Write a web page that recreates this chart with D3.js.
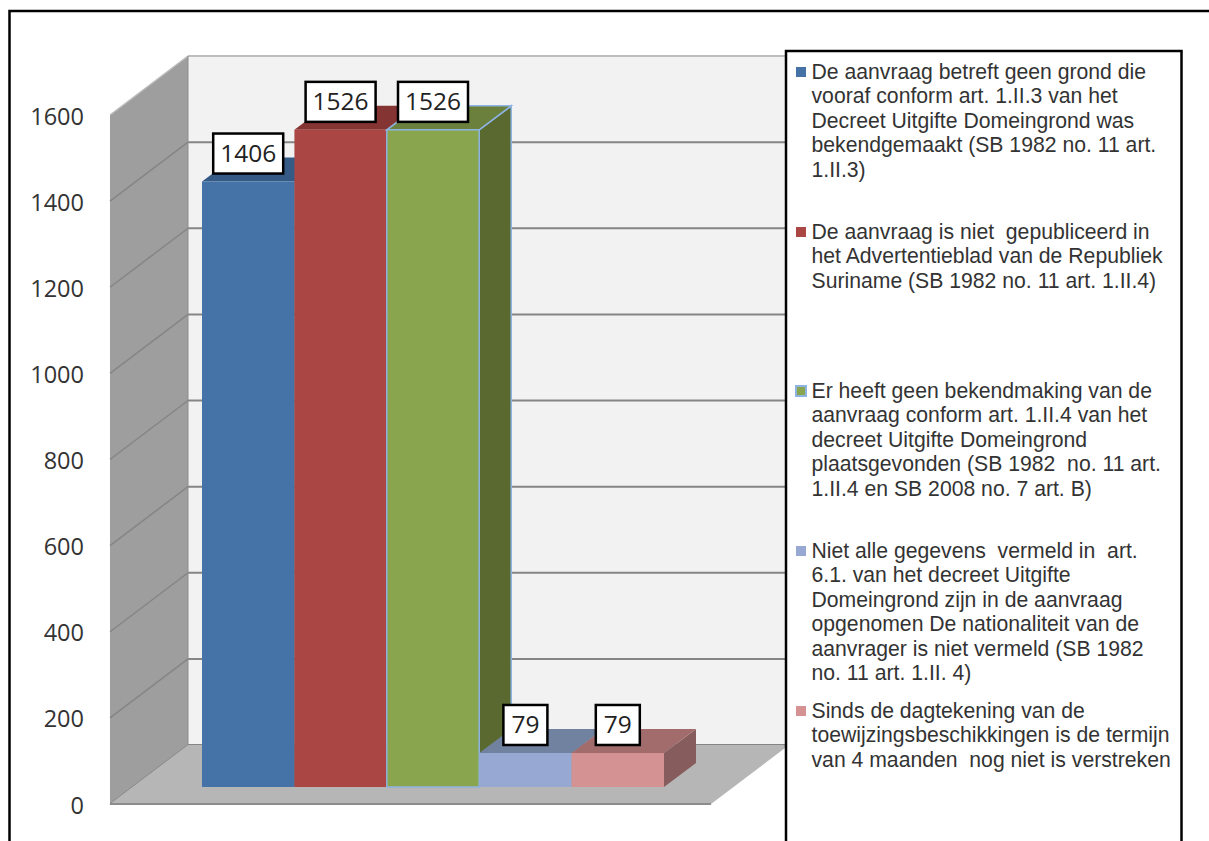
<!DOCTYPE html>
<meta charset="utf-8">
<head>
    <script src="https://d3js.org/d3.v7.min.js"></script>
    <style>
    html, body { margin: 0; background: white; overflow: hidden; }
    svg { display: block; }
    .tick-label { font: 23.5px "Open Sans", sans-serif; fill: #333; }
    .value-label { font: 24.5px "Open Sans", sans-serif; fill: #222; }
    .legend-text { font: 21.2px "Liberation Sans", sans-serif; fill: #333; white-space: pre; }
    </style>
</head>

<body>
    <svg id="svgid" width="1209" height="841"></svg>

    <script>
        // chart values
        var values = [1406, 1526, 1526, 79, 79];
        var ticks = [0, 200, 400, 600, 800, 1000, 1200, 1400, 1600];
        var frontColors = ["#4572a7", "#aa4643", "#89a54e", "#97a9d2", "#d49292"];
        var topColors = ["#355a85", "#843432", "#6a803c", "#70829f", "#a26c6d"];
        var sideColors = ["#2f5077", "#752e2c", "#59692f", "#62718b", "#865c5c"];
        var legendLines = [
            ["De aanvraag betreft geen grond die", "vooraf conform art. 1.II.3 van het", "Decreet Uitgifte Domeingrond was", "bekendgemaakt (SB 1982 no. 11 art.", "1.II.3)"],
            ["De aanvraag is niet  gepubliceerd in", "het Advertentieblad van de Republiek", "Suriname (SB 1982 no. 11 art. 1.II.4)"],
            ["Er heeft geen bekendmaking van de", "aanvraag conform art. 1.II.4 van het", "decreet Uitgifte Domeingrond", "plaatsgevonden (SB 1982  no. 11 art.", "1.II.4 en SB 2008 no. 7 art. B)"],
            ["Niet alle gegevens  vermeld in  art.", "6.1. van het decreet Uitgifte", "Domeingrond zijn in de aanvraag", "opgenomen De nationaliteit van de", "aanvrager is niet vermeld (SB 1982", "no. 11 art. 1.II. 4)"],
            ["Sinds de dagtekening van de", "toewijzingsbeschikkingen is de termijn", "van 4 maanden  nog niet is verstreken"]
        ];
        var legendTops = [72, 232, 391, 551, 711];

        var svg = d3.select("#svgid");

        // front plane of the box, the back wall is shifted by depth
        var y = d3.scaleLinear().domain([0, 1600]).range([804, 115]);
        var x = d3.scaleBand().domain(d3.range(values.length)).range([202, 664]);
        var left = 110, right = 711, depthX = 78, depthY = -59;
        var barDepthX = 32, barDepthY = -24, barLift = 17;

        function poly(pts, fill, stroke) {
            return svg.append("polygon")
                .attr("points", pts.map(function(p) { return p.join(","); }).join(" "))
                .attr("fill", fill)
                .attr("stroke", stroke || "none")
                .attr("stroke-width", 1.5);
        }

        // frame, open on the right and at the bottom
        svg.append("path")
            .attr("d", "M9.5,841 V11 H1209")
            .attr("fill", "none")
            .attr("stroke", "#000")
            .attr("stroke-width", 2.5);

        // back wall, side wall, floor
        poly([[left + depthX, y(1600) + depthY], [right + depthX, y(1600) + depthY], [right + depthX, y(0) + depthY], [left + depthX, y(0) + depthY]], "#f2f2f2");
        poly([[left, y(1600)], [left + depthX, y(1600) + depthY], [left + depthX, y(0) + depthY], [left, y(0)]], "#9e9e9e");

        svg.selectAll(".grid-back").data(ticks).enter().append("line")
            .attr("x1", left + depthX).attr("x2", right + depthX)
            .attr("y1", function(d) { return y(d) + depthY; })
            .attr("y2", function(d) { return y(d) + depthY; })
            .attr("stroke", function(d) { return d === 1600 ? "#bdbdbd" : "#858585"; })
            .attr("stroke-width", 2);
        svg.selectAll(".grid-side").data(ticks).enter().append("line")
            .attr("x1", left).attr("x2", left + depthX)
            .attr("y1", function(d) { return y(d); })
            .attr("y2", function(d) { return y(d) + depthY; })
            .attr("stroke", function(d) { return d === 1600 ? "#bdbdbd" : "#858585"; })
            .attr("stroke-width", 1.5);

        poly([[left, y(0)], [right, y(0)], [right + depthX, y(0) + depthY], [left + depthX, y(0) + depthY]], "#b6b6b6");
        svg.append("line")
            .attr("x1", left).attr("x2", right)
            .attr("y1", y(0)).attr("y2", y(0))
            .attr("stroke", "#8c8c8c").attr("stroke-width", 2);
        svg.append("line")
            .attr("x1", left + depthX).attr("x2", left + depthX)
            .attr("y1", y(1600) + depthY).attr("y2", y(0) + depthY)
            .attr("stroke", "#8c8c8c").attr("stroke-width", 1);

        // bars
        values.forEach(function(v, i) {
            var x0 = x(i), x1 = x(i) + x.bandwidth();
            var base = y(0) - barLift, top = y(v) - barLift;
            var edge = i === 2 ? "#8db4e2" : null;
            poly([[x1, base], [x1 + barDepthX, base + barDepthY], [x1 + barDepthX, top + barDepthY], [x1, top]], sideColors[i], edge);
            poly([[x0, top], [x1, top], [x1 + barDepthX, top + barDepthY], [x0 + barDepthX, top + barDepthY]], topColors[i], edge);
            poly([[x0, base], [x1, base], [x1, top], [x0, top]], frontColors[i], edge);
        });

        // value boxes
        values.forEach(function(v, i) {
            var cx = x(i) + x.bandwidth() / 2;
            var boxW = v > 99 ? 70 : 44;
            var boxBottom = y(v) - barLift - 8;
            svg.append("rect")
                .attr("x", cx - boxW / 2).attr("y", boxBottom - 40)
                .attr("width", boxW).attr("height", 40)
                .attr("fill", "#fff").attr("stroke", "#000").attr("stroke-width", 2.5);
            svg.append("text")
                .attr("class", "value-label")
                .attr("x", cx).attr("y", boxBottom - 12)
                .attr("text-anchor", "middle")
                .text(v);
        });

        // axis labels
        svg.selectAll(".tick-label").data(ticks).enter().append("text")
            .attr("class", "tick-label")
            .attr("x", 84)
            .attr("y", function(d) { return y(d) + 9.5; })
            .attr("text-anchor", "end")
            .text(function(d) { return d; });

        // legend box runs off the bottom of the picture
        svg.append("rect")
            .attr("x", 786).attr("y", 51)
            .attr("width", 395.5).attr("height", 820)
            .attr("fill", "#fff").attr("stroke", "#000").attr("stroke-width", 2.5);

        legendLines.forEach(function(lines, i) {
            svg.append("rect")
                .attr("x", 796).attr("y", legendTops[i] - 5)
                .attr("width", 10).attr("height", 10)
                .attr("fill", frontColors[i])
                .attr("stroke", i === 2 ? "#8db4e2" : "none")
                .attr("stroke-width", 2);
            lines.forEach(function(line, j) {
                svg.append("text")
                    .attr("class", "legend-text")
                    .attr("x", 811.5)
                    .attr("y", legendTops[i] + 7 + j * 24.4)
                    .text(line);
            });
        });
    </script>
</body>
